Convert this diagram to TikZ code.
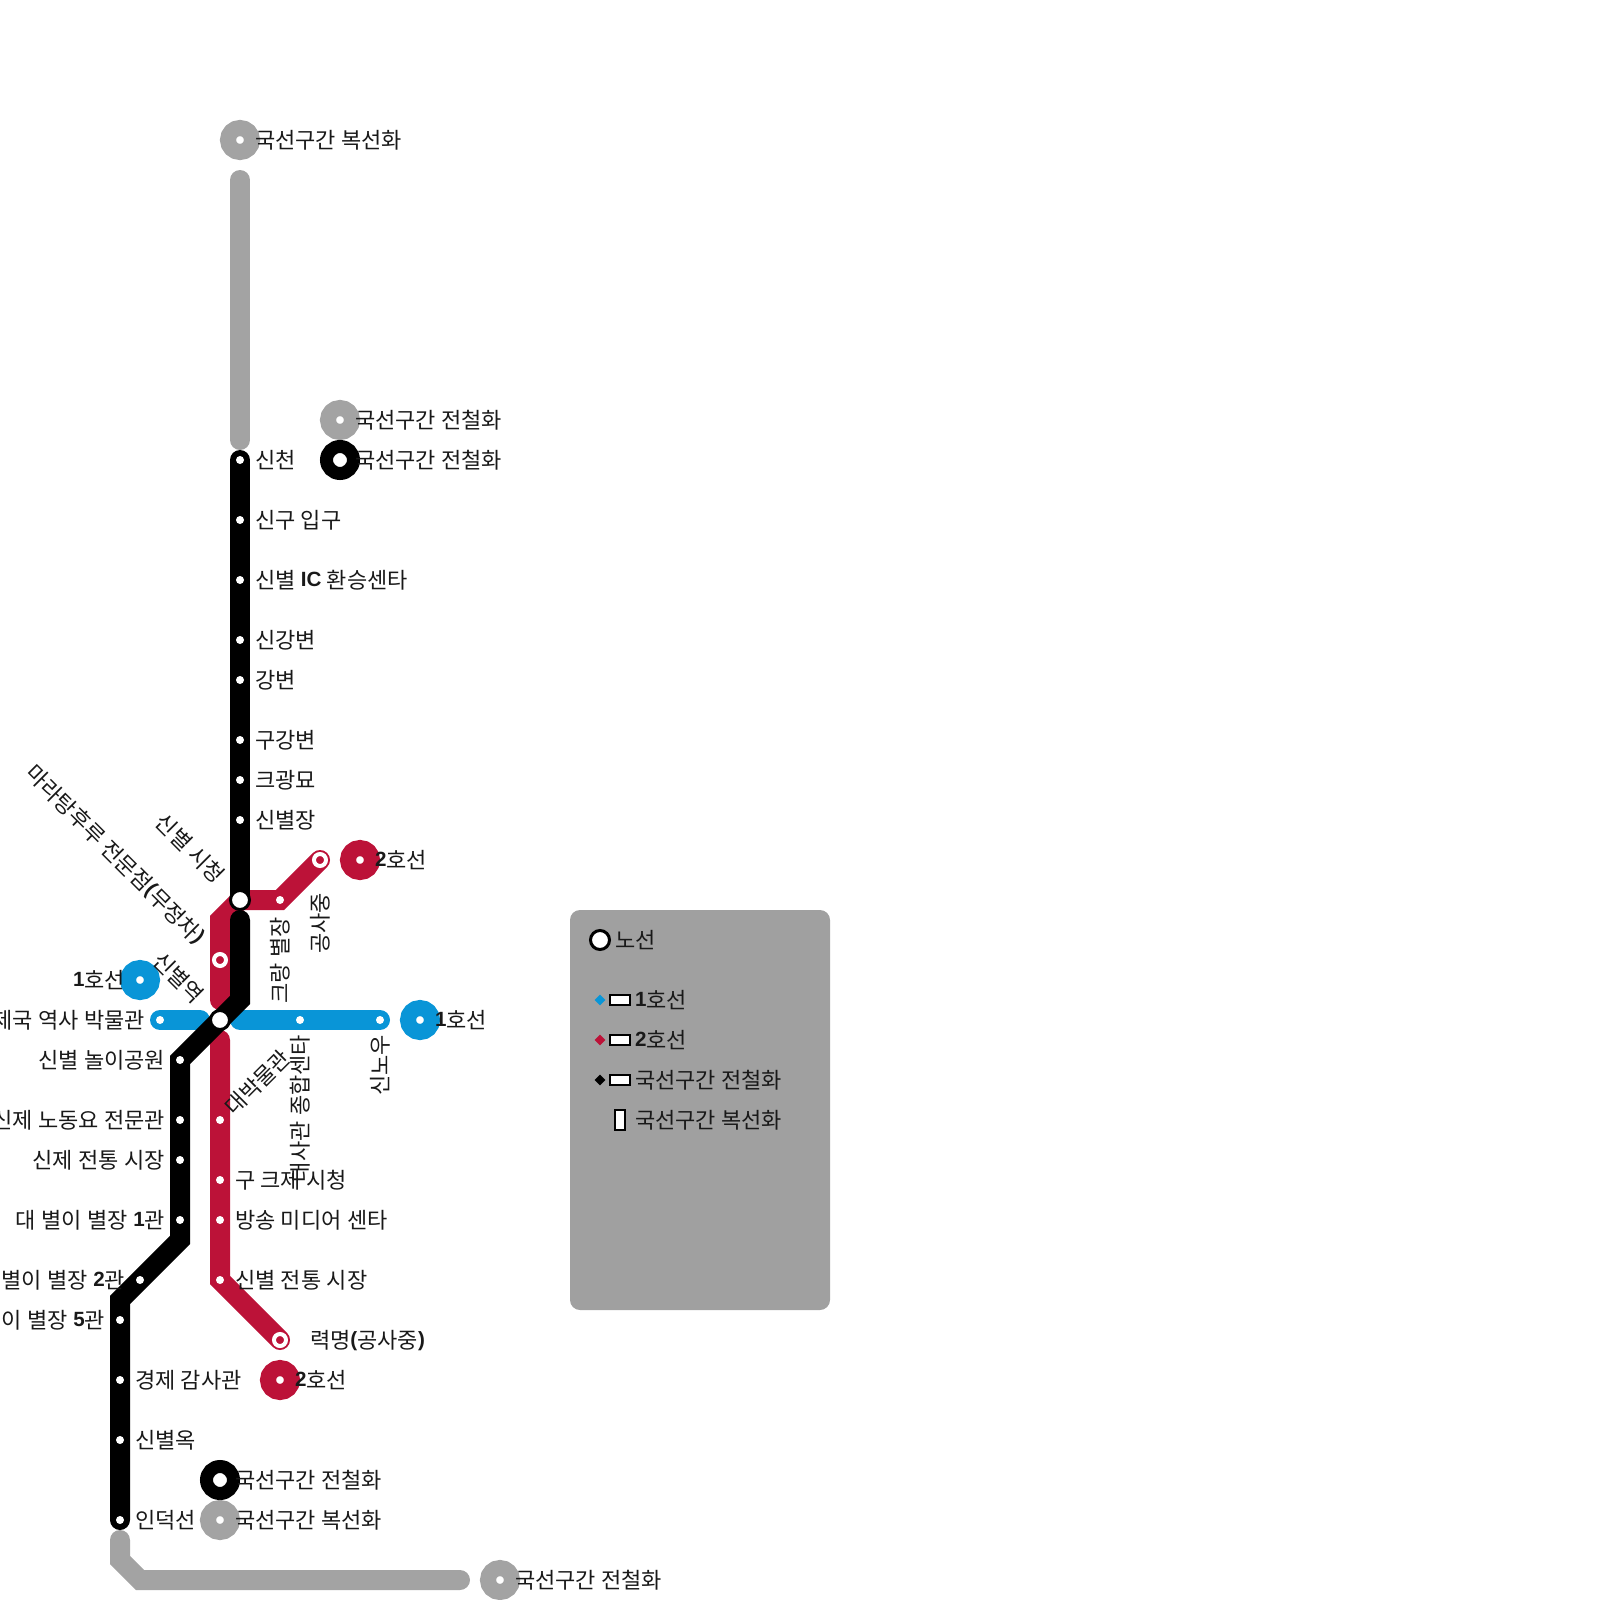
\documentclass[tikz,border=0pt]{standalone}
\usepackage{fontspec}
\setmainfont[WordSpace=1.1]{Noto Sans CJK KR}
\newfontfamily\latfont{Liberation Sans}
\newcommand{\bnum}[1]{\raisebox{1.2pt}{\latfont\bfseries\fontsize{10.3}{12}\selectfont #1}}
\usetikzlibrary{positioning,shapes.geometric}
\definecolor{lineblue}{HTML}{0995D7}
\definecolor{linered}{HTML}{BC1238}
\definecolor{linegray}{HTML}{A3A3A3}
\definecolor{legendgray}{HTML}{A0A0A0}

\begin{document}
\begin{tikzpicture}[x=0.5pt,y=-0.5pt,
    route/.style={line width=10pt,line cap=round},
    stop/.style={circle,fill=white,inner sep=0pt,outer sep=0pt,minimum size=4pt},
    redstop/.style={circle,fill=linered,draw=white,line width=2pt,inner sep=0pt,outer sep=0pt,minimum size=6pt},
    hub/.style={circle,fill=white,draw=black,line width=1.5pt,inner sep=0pt,outer sep=0pt,minimum size=9.5pt},
    term/.style={circle,fill=white,draw=#1,line width=8pt,inner sep=0pt,outer sep=0pt,minimum size=12pt},
    termblack/.style={circle,fill=white,draw=black,line width=6.5pt,inner sep=0pt,outer sep=0pt,minimum size=13.5pt},
    lbl/.style={inner sep=0pt,outer sep=0pt,text height=9.6pt,text depth=1.2pt,font=\fontsize{11}{13}\selectfont,text=black!90},
    lblr/.style={lbl,anchor=west},
    lbll/.style={lbl,anchor=east},
    keymark/.style={diamond,aspect=1,fill=#1,inner sep=0pt,minimum size=5.5pt},
    keybar/.style={rectangle,fill=white,draw=black,line width=1pt,inner sep=0pt,outer sep=0pt,minimum width=10pt,minimum height=5pt}]
  \useasboundingbox (0,0) rectangle (1600,1600);

  % 노선의 꺾이는 점
  \coordinate (grayTop) at (240,180);
  \coordinate (grayEnd) at (240,440);
  \coordinate (blackTop) at (240,460);
  \coordinate (hubNorth) at (240,900);
  \coordinate (blackMid) at (240,920);
  \coordinate (blackBend) at (240,1000);
  \coordinate (hubSouth) at (220,1020);
  \coordinate (parkBend) at (180,1060);
  \coordinate (hallBend) at (180,1240);
  \coordinate (westBend) at (120,1300);
  \coordinate (blackEnd) at (120,1520);
  \coordinate (redEast) at (320,860);
  \coordinate (redBend) at (280,900);
  \coordinate (redWest) at (220,920);
  \coordinate (redUpEnd) at (220,1000);
  \coordinate (redLowTop) at (220,1040);
  \coordinate (redLowBend) at (220,1280);
  \coordinate (redSouth) at (280,1340);
  \coordinate (blueWest) at (160,1020);
  \coordinate (blueWestEnd) at (200,1020);
  \coordinate (blueEastTop) at (240,1020);
  \coordinate (blueEast) at (380,1020);
  \coordinate (graySouth) at (120,1540);
  \coordinate (grayKnee) at (120,1560);
  \coordinate (grayFoot) at (140,1580);
  \coordinate (grayEast) at (460,1580);

  % 노선
  \draw[route,linegray] (grayTop) -- (grayEnd); % 북쪽 복선화 구간
  \draw[route,linegray] (graySouth) -- (grayKnee) -- (grayFoot) -- (grayEast); % 남쪽 전철화 구간
  \draw[route,lineblue] (blueWest) -- (blueWestEnd); % 1호선 서쪽
  \draw[route,lineblue] (blueEastTop) -- (blueEast); % 1호선 동쪽
  \draw[route,linered] (redEast) -- (redBend) -- (hubNorth) -- (redWest) -- (redUpEnd); % 2호선 북쪽
  \draw[route,linered] (redLowTop) -- (redLowBend) -- (redSouth); % 2호선 남쪽
  \draw[route,black] (blackTop) -- (hubNorth); % 국선 북쪽
  \draw[route,black] (blackMid) -- (blackBend) -- (hubSouth) -- (parkBend) -- (hallBend) -- (westBend) -- (blackEnd); % 국선 남쪽

  % 역
  \node[stop] (sincheon) at (240,460) {};
  \node[stop] (singuIp) at (240,520) {};
  \node[stop] (sinbyeolIc) at (240,580) {};
  \node[stop] (singang) at (240,640) {};
  \node[stop] (gangbyeon) at (240,680) {};
  \node[stop] (gugang) at (240,740) {};
  \node[stop] (keugwang) at (240,780) {};
  \node[stop] (sinbyeoljang) at (240,820) {};
  \node[stop] (keurang) at (280,900) {};
  \node[redstop] (gongsaEast) at (320,860) {};
  \node[redstop] (maratang) at (220,960) {};
  \node[hub] (cityHall) at (hubNorth) {};
  \node[hub] (sinbyeolSt) at (hubSouth) {};
  \node[stop] (museum) at (160,1020) {};
  \node[stop] (embassy) at (300,1020) {};
  \node[stop] (sinnou) at (380,1020) {};
  \node[stop] (park) at (180,1060) {};
  \node[stop] (labor) at (180,1120) {};
  \node[stop] (market) at (180,1160) {};
  \node[stop] (hallOne) at (180,1220) {};
  \node[stop] (hallTwo) at (140,1280) {};
  \node[stop] (hallFive) at (120,1320) {};
  \node[stop] (audit) at (120,1380) {};
  \node[stop] (sinbyeolok) at (120,1440) {};
  \node[stop] (indeok) at (120,1520) {};
  \node[stop] (bigMuseum) at (220,1120) {};
  \node[stop] (oldCity) at (220,1180) {};
  \node[stop] (media) at (220,1220) {};
  \node[stop] (redMarket) at (220,1280) {};
  \node[redstop] (ryeokmyeong) at (280,1340) {};

  % 노선 끝 표시
  \node[term=linegray] (endNorth) at (240,140) {};
  \node[term=linegray] (endEastGray) at (340,420) {};
  \node[termblack] (endEastBlack) at (340,460) {};
  \node[term=linered] (endRedNorth) at (360,860) {};
  \node[term=lineblue] (endBlueWest) at (140,980) {};
  \node[term=lineblue] (endBlueEast) at (420,1020) {};
  \node[term=linered] (endRedSouth) at (280,1380) {};
  \node[termblack] (endSouthBlack) at (220,1480) {};
  \node[term=linegray] (endSouthGray) at (220,1520) {};
  \node[term=linegray] (endFarSouth) at (500,1580) {};

  % 역 이름
  \node[lblr] (tNorth) at (255,140) {국선구간 복선화};
  \node[lblr] (tEastGray) at (355,420) {국선구간 전철화};
  \node[lblr] (tEastBlack) at (355,460) {국선구간 전철화};
  \node[lblr] (tSincheon) at (255,460) {신천};
  \node[lblr] (tSingu) at (255,520) {신구 입구};
  \node[lblr] (tIc) at (255,580) {신별 \bnum{IC} 환승센타};
  \node[lblr] (tSingang) at (255,640) {신강변};
  \node[lblr] (tGang) at (255,680) {강변};
  \node[lblr] (tGugang) at (255,740) {구강변};
  \node[lblr] (tKeu) at (255,780) {크광묘};
  \node[lblr] (tJang) at (255,820) {신별장};
  \node[lblr] (tRedNorth) at (375,860) {\bnum{2}호선};
  \node[lbl,rotate=-45,anchor=east] (tCity) at (221,879) {신별 시청};
  \node[lbl,rotate=-45,anchor=east] (tMara) at (201,940) {마라탕후루 전문점\bnum{(}무정차\bnum{)}};
  \node[lbl,rotate=-45,anchor=east] (tStation) at (200,999) {신별역};
  \node[lbl,rotate=90,anchor=east] (tKeurang) at (280,917) {크랑 별장};
  \node[lbl,rotate=90,anchor=east] (tGongsa) at (320,893) {공사중};
  \node[lbl,rotate=90,anchor=east] (tEmbassy) at (300,1035) {대사관 종합센타};
  \node[lbl,rotate=90,anchor=east] (tSinnou) at (380,1035) {신노우};
  \node[lbl,rotate=45,anchor=west] (tBig) at (229,1111) {대박물관};
  \node[lbll] (tBlueWest) at (125,980) {\bnum{1}호선};
  \node[lblr] (tBlueEast) at (435,1020) {\bnum{1}호선};
  \node[lbll] (tMuseum) at (145,1020) {제국 역사 박물관};
  \node[lbll] (tPark) at (165,1060) {신별 놀이공원};
  \node[lbll] (tLabor) at (165,1120) {신제 노동요 전문관};
  \node[lbll] (tMarket) at (165,1160) {신제 전통 시장};
  \node[lbll] (tOne) at (165,1220) {대 별이 별장 \bnum{1}관};
  \node[lbll] (tTwo) at (125,1280) {별이 별장 \bnum{2}관};
  \node[lbll] (tFive) at (105,1320) {이 별장 \bnum{5}관};
  \node[lblr] (tOld) at (235,1180) {구 크제 시청};
  \node[lblr] (tMedia) at (235,1220) {방송 미디어 센타};
  \node[lblr] (tRedMarket) at (235,1280) {신별 전통 시장};
  \node[lblr] (tRyeok) at (310,1340) {력명\bnum{(}공사중\bnum{)}};
  \node[lblr] (tAudit) at (135,1380) {경제 감사관};
  \node[lblr] (tRedSouth) at (295,1380) {\bnum{2}호선};
  \node[lblr] (tOk) at (135,1440) {신별옥};
  \node[lblr] (tSouthBlack) at (235,1480) {국선구간 전철화};
  \node[lblr] (tIndeok) at (135,1520) {인덕선};
  \node[lblr] (tSouthGray) at (235,1520) {국선구간 복선화};
  \node[lblr] (tFarSouth) at (515,1580) {국선구간 전철화};

  % 범례
  \fill[legendgray,rounded corners=5pt] (570,910) rectangle (830,1310); % 범례 바탕
  \node[hub] (keyHub) at (600,940) {};
  \node[lblr] (keyHubText) at (615,940) {노선};
  \node[keymark=lineblue] (keyOne) at (600,1000) {};
  \node[keybar] (keyOneBar) at (620,1000) {};
  \node[lblr] (keyOneText) at (635,1000) {\bnum{1}호선};
  \node[keymark=linered] (keyTwo) at (600,1040) {};
  \node[keybar] (keyTwoBar) at (620,1040) {};
  \node[lblr] (keyTwoText) at (635,1040) {\bnum{2}호선};
  \node[keymark=black] (keyElec) at (600,1080) {};
  \node[keybar] (keyElecBar) at (620,1080) {};
  \node[lblr] (keyElecText) at (635,1080) {국선구간 전철화};
  \node[keybar,minimum width=5pt,minimum height=10pt] (keyDoubleBar) at (620,1120) {};
  \node[lblr] (keyDoubleText) at (635,1120) {국선구간 복선화};
\end{tikzpicture}
\end{document}
